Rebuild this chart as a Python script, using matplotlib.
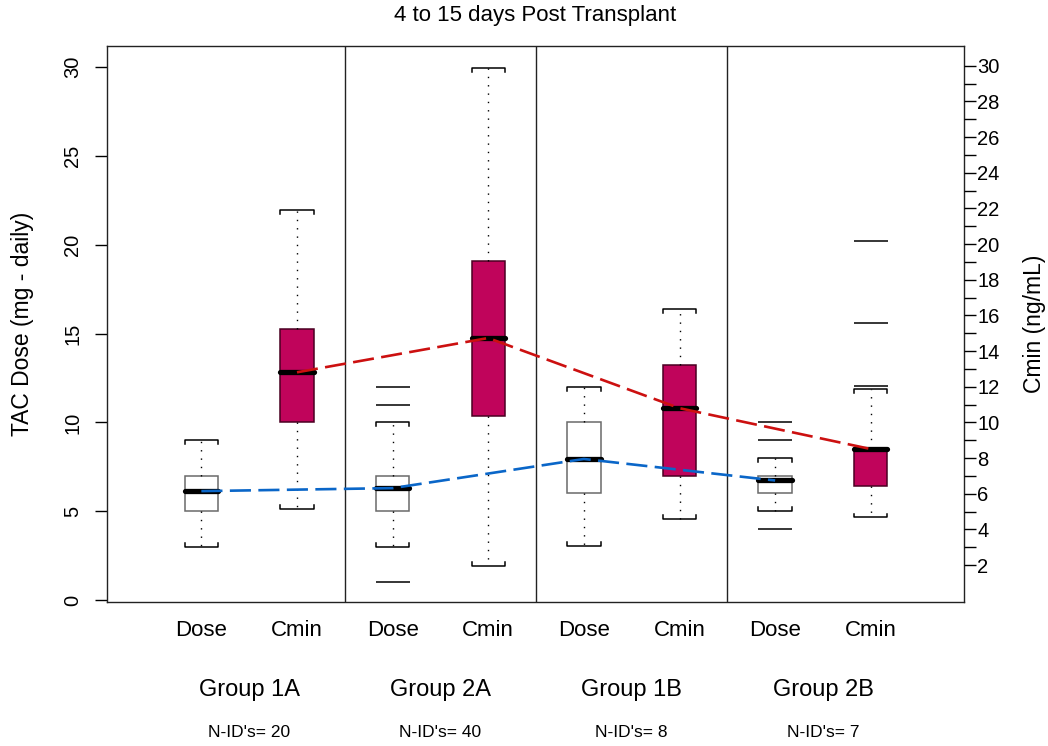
import numpy as np
import matplotlib
matplotlib.use('Agg')
import matplotlib.pyplot as plt

plt.rcParams['font.family'] = ['Liberation Sans', 'DejaVu Sans']

# Groups and subjects per group
groups = ['Group 1A', 'Group 2A', 'Group 1B', 'Group 2B']
n_ids = [20, 40, 8, 7]
box_names = ['Dose', 'Cmin'] * 4

# Box summaries, ordered Dose/Cmin for each group
whisk_lo = [3.0, 5.15, 3.0, 1.9, 3.05, 4.55, 5.0, 4.65]
q1 = [5.0, 10.0, 5.0, 10.35, 6.05, 7.0, 6.0, 6.4]
medians = [6.13, 12.82, 6.3, 14.75, 7.94, 10.8, 6.73, 8.5]
q3 = [7.0, 15.25, 7.0, 19.08, 10.03, 13.22, 7.0, 8.55]
whisk_hi = [9.0, 21.97, 10.0, 29.93, 12.0, 16.4, 8.0, 11.9]
outliers = [[], [], [12.0, 11.0, 1.0], [], [], [], [10.0, 9.0, 4.0],
            [20.2, 15.6, 12.05]]

dose_color = 'white'
cmin_color = '#C0045B'
dose_line_color = '#0A66C8'
cmin_line_color = '#CC1010'

positions = np.arange(1, 9)
box_w = 0.35

stats = []
for i in range(8):
    stats.append({'med': medians[i], 'q1': q1[i], 'q3': q3[i],
                  'whislo': whisk_lo[i], 'whishi': whisk_hi[i],
                  'fliers': outliers[i], 'label': box_names[i]})

fig = plt.figure(figsize=(10.48, 7.46), dpi=100)
ax = fig.add_axes([0.1018, 0.1926, 0.8185, 0.7457])

bp = ax.bxp(stats, positions=positions, widths=box_w, patch_artist=True,
            showcaps=False,
            whiskerprops=dict(color='black', linewidth=1.0,
                              linestyle=(0, (1, 5))),
            medianprops=dict(color='black', linewidth=3.8,
                             solid_capstyle='round'),
            flierprops=dict(marker='_', markersize=24,
                            markeredgecolor='black', markeredgewidth=1.1))

for i, patch in enumerate(bp['boxes']):
    if box_names[i] == 'Dose':
        patch.set_facecolor(dose_color)
        patch.set_edgecolor('#6a6a6a')
    else:
        patch.set_facecolor(cmin_color)
        patch.set_edgecolor('#4a0022')
    patch.set_linewidth(1.1)

# whisker staples with small hooks pointing back to the box
hook = 0.22
for i, x in enumerate(positions):
    x0, x1 = x - box_w / 2, x + box_w / 2
    lo, hi = whisk_lo[i], whisk_hi[i]
    ax.plot([x0, x0, x1, x1], [lo + hook, lo, lo, lo + hook],
            color='black', lw=1.1, zorder=3)
    ax.plot([x0, x0, x1, x1], [hi - hook, hi, hi, hi - hook],
            color='black', lw=1.1, zorder=3)

# group separators
for xs in [2.5, 4.5, 6.5]:
    ax.axvline(xs, color='#222222', lw=1.0, zorder=1)

# median trend lines for Dose and Cmin
dose_pos = positions[0::2]
cmin_pos = positions[1::2]
ax.plot(dose_pos, medians[0::2], color=dose_line_color, lw=1.9,
        dashes=(8, 2.8), zorder=5)
ax.plot(cmin_pos, medians[1::2], color=cmin_line_color, lw=1.9,
        dashes=(8, 2.8), zorder=5)

ax.set_xlim(0.01, 8.98)
ax.set_ylim(-0.13, 31.19)
ax.set_xticks([])
ax.set_yticks(range(0, 31, 5))
ax.tick_params(axis='y', length=8.6, width=1, labelsize=14.5, pad=9,
               labelrotation=90)
for lab in ax.get_yticklabels():
    lab.set_verticalalignment('center')
for sp in ax.spines.values():
    sp.set_color('#222222')
    sp.set_linewidth(1.0)

# second axis for Cmin
ax2 = ax.twinx()
ax2.set_ylim(-0.09, 31.11)
ax2.set_yticks(range(2, 31))
ax2.set_yticklabels([str(v) if v % 2 == 0 else '' for v in range(2, 31)])
ax2.tick_params(axis='y', length=8.6, width=1, labelsize=14.5, pad=0.5)
for sp in ax2.spines.values():
    sp.set_visible(False)

xt = ax.get_xaxis_transform()
for i, x in enumerate(positions):
    ax.text(x, -0.0498, box_names[i], transform=xt, ha='center',
            va='center', fontsize=16)
for g, name in enumerate(groups):
    xc = positions[2 * g] + 0.5
    ax.text(xc, -0.1577, name, transform=xt, ha='center', va='center',
            fontsize=17)
    ax.text(xc, -0.2332, "N-ID's= %d" % n_ids[g], transform=xt,
            ha='center', va='center', fontsize=12.5)

ax.text(0.5, 1.0557, '4 to 15 days Post Transplant', transform=ax.transAxes,
        ha='center', va='center', fontsize=16)
ax.text(-0.0976, 0.5, 'TAC Dose (mg - daily)', transform=ax.transAxes,
        rotation=90, ha='center', va='center', fontsize=16.5)
ax.text(1.0822, 0.5, 'Cmin (ng/mL)', transform=ax.transAxes,
        rotation=90, ha='center', va='center', fontsize=16.5)

fig.savefig('out.png', dpi=100)
